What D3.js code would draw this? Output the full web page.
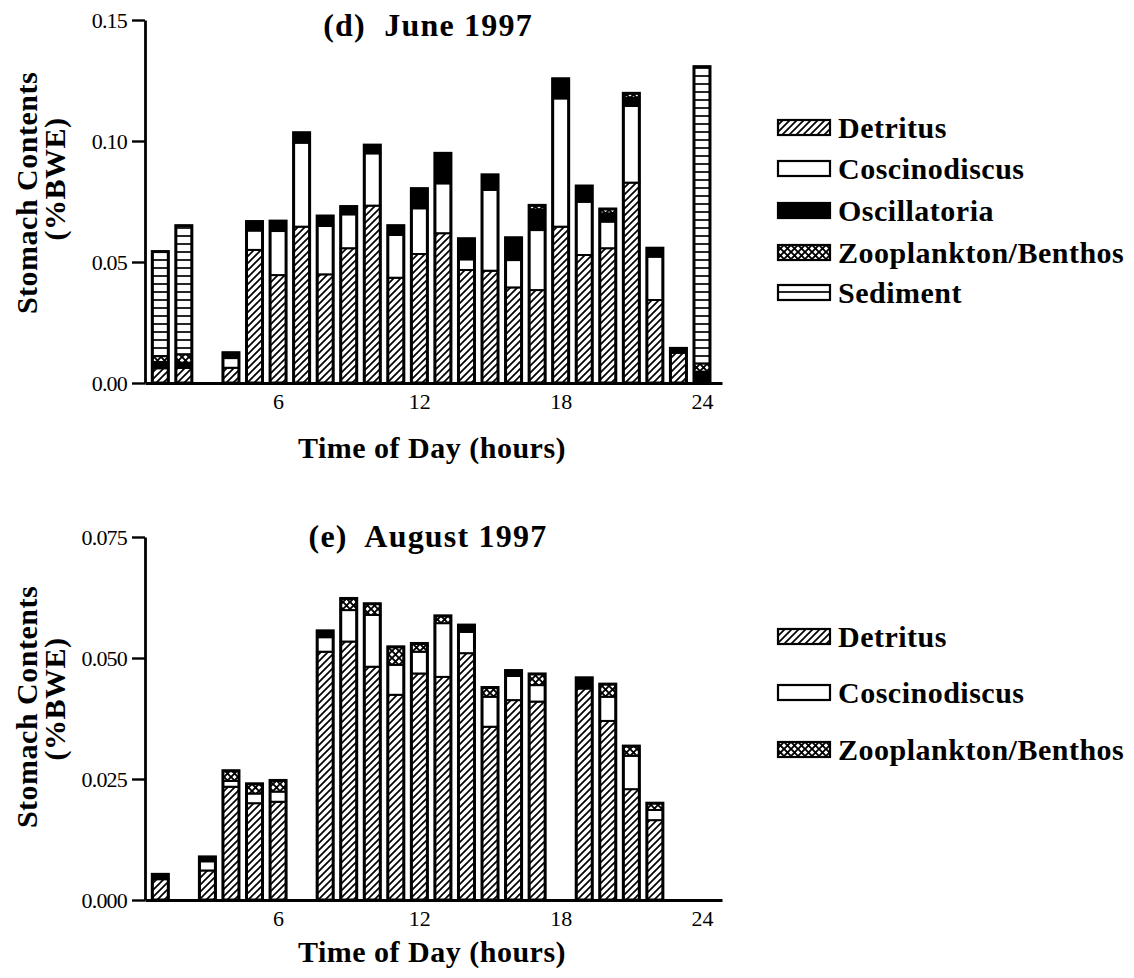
<!DOCTYPE html>
<html>
<head>
<meta charset="utf-8">
<script src="https://cdn.jsdelivr.net/npm/d3@7"></script>
<style>
  body { margin: 0; background: #fff; }
  svg { display: block; font-family: "Liberation Serif", "Times New Roman", serif; }
</style>
</head>
<body>
<div id="chart"></div>
<script>
// June 1997 (panel d)
const juneHours = [1, 2, 4, 5, 6, 7, 8, 9, 10, 11, 12, 13, 14, 15, 16, 17, 18, 19, 20, 21, 22, 23, 24];
const juneDetritus = [0.0061, 0.0062, 0.0063, 0.0550, 0.0446, 0.0646, 0.0449, 0.0557, 0.0733, 0.0435, 0.0533, 0.0619, 0.0467, 0.0464, 0.0395, 0.0384, 0.0646, 0.0529, 0.0557, 0.0828, 0.0343, 0.0125, 0];
const juneCosc     = [0, 0, 0.0040, 0.0080, 0.0182, 0.0347, 0.0200, 0.0140, 0.0216, 0.0177, 0.0189, 0.0206, 0.0044, 0.0334, 0.0113, 0.0248, 0.0530, 0.0220, 0.0110, 0.0317, 0.0179, 0, 0];
const juneOsc      = [0.0026, 0.0022, 0.0022, 0.0037, 0.0041, 0.0041, 0.0041, 0.0032, 0.0034, 0.0038, 0.0081, 0.0124, 0.0085, 0.0062, 0.0092, 0.0085, 0.0081, 0.0065, 0.0034, 0.0034, 0.0035, 0.0018, 0.0047];
const juneZoo      = [0.0024, 0.0035, 0, 0, 0, 0, 0, 0, 0, 0, 0, 0, 0, 0, 0, 0.0017, 0, 0, 0.0018, 0.0018, 0, 0, 0.0034];
const juneSediment = [0.0432, 0.0531, 0, 0, 0, 0, 0, 0, 0, 0, 0, 0, 0, 0, 0, 0, 0, 0, 0, 0, 0, 0, 0.1226];

// August 1997 (panel e)
const augHours = [1, 3, 4, 5, 6, 8, 9, 10, 11, 12, 13, 14, 15, 16, 17, 19, 20, 21, 22];
const augDetritus = [0.0043, 0.0061, 0.0234, 0.0200, 0.0203, 0.0513, 0.0534, 0.0482, 0.0424, 0.0468, 0.0461, 0.0510, 0.0358, 0.0413, 0.0410, 0.0437, 0.0370, 0.0229, 0.0165];
const augCosc     = [0, 0.0019, 0.0012, 0.0020, 0.0021, 0.0030, 0.0065, 0.0107, 0.0062, 0.0045, 0.0111, 0.0044, 0.0062, 0.0050, 0.0034, 0, 0.0050, 0.0069, 0.0021];
const augOsc      = [0.0010, 0.0009, 0, 0, 0, 0.0013, 0, 0, 0, 0, 0, 0.0014, 0, 0.0011, 0, 0.0022, 0, 0, 0];
const augZoo      = [0, 0, 0.0021, 0.0020, 0.0023, 0, 0.0024, 0.0023, 0.0037, 0.0017, 0.0015, 0, 0.0019, 0, 0.0023, 0, 0.0026, 0.0020, 0.0014];

const xTicks = [6, 12, 18, 24];
const juneYTicks = [0, 0.05, 0.10, 0.15];
const augYTicks = [0, 0.025, 0.050, 0.075];

const seriesKeys = ["Detritus", "Coscinodiscus", "Oscillatoria", "Zooplankton/Benthos", "Sediment"];
const fills = {
  "Detritus": "url(#hatch)",
  "Coscinodiscus": "#fff",
  "Oscillatoria": "#000",
  "Zooplankton/Benthos": "url(#cross)",
  "Sediment": "url(#sed)"
};

const svg = d3.select("#chart").append("svg")
  .attr("width", 1134).attr("height", 978);
svg.append("rect").attr("width", 1134).attr("height", 978).attr("fill", "#fff");

// patterns
const defs = svg.append("defs");
const hatch = defs.append("pattern").attr("id", "hatch").attr("patternUnits", "userSpaceOnUse")
  .attr("width", 7).attr("height", 7);
hatch.append("rect").attr("width", 7).attr("height", 7).attr("fill", "#fff");
hatch.append("path").attr("d", "M-1,1 l2,-2 M0,7 l7,-7 M6,8 l2,-2").attr("stroke", "#000").attr("stroke-width", 1.7);

const cross = defs.append("pattern").attr("id", "cross").attr("patternUnits", "userSpaceOnUse")
  .attr("width", 7).attr("height", 7);
cross.append("rect").attr("width", 7).attr("height", 7).attr("fill", "#fff");
cross.append("path").attr("d", "M0,0 L7,7 M7,0 L0,7").attr("stroke", "#000").attr("stroke-width", 1.9);

const sed = defs.append("pattern").attr("id", "sed").attr("patternUnits", "userSpaceOnUse")
  .attr("width", 8).attr("height", 8);
sed.append("rect").attr("width", 8).attr("height", 8).attr("fill", "#fff");
sed.append("path").attr("d", "M0,4 H8").attr("stroke", "#000").attr("stroke-width", 1.7);

const x = d3.scaleLinear().domain([0.35, 24.85]).range([145, 722]);
const barW = 16;

function panel(p) {
  const y = d3.scaleLinear().domain([0, p.yMax]).range([p.y0, p.y1]);
  const g = svg.append("g");

  const rows = p.hours.map((h, i) => {
    const r = { hour: h };
    seriesKeys.forEach(k => r[k] = p.values[k] ? p.values[k][i] : 0);
    return r;
  });
  const stacked = d3.stack().keys(seriesKeys)(rows);

  stacked.forEach(layer => {
    g.append("g").selectAll("rect")
      .data(layer.filter(d => d[1] - d[0] > 0))
      .join("rect")
      .attr("x", d => x(d.data.hour) - barW / 2)
      .attr("width", barW)
      .attr("y", d => y(d[1]))
      .attr("height", d => y(d[0]) - y(d[1]))
      .attr("fill", fills[layer.key])
      .attr("stroke", "#000")
      .attr("stroke-width", 2);
  });
  // outer outline of each bar
  g.append("g").selectAll("rect")
    .data(rows)
    .join("rect")
    .attr("x", d => x(d.hour) - barW / 2)
    .attr("width", barW)
    .attr("y", d => y(d3.sum(seriesKeys, k => d[k])))
    .attr("height", d => y(0) - y(d3.sum(seriesKeys, k => d[k])))
    .attr("fill", "none")
    .attr("stroke", "#000")
    .attr("stroke-width", 3);

  // axes
  const ya = g.append("g").attr("transform", "translate(145,0)")
    .call(d3.axisLeft(y).tickValues(p.yTicks).tickFormat(d3.format(p.fmt)).tickSize(13).tickPadding(5).tickSizeOuter(0));
  ya.select(".domain").attr("stroke-width", 2.8);
  ya.selectAll(".tick line").attr("stroke-width", 2.4);
  ya.selectAll("text").attr("font-size", 22).attr("letter-spacing", "-0.8px")
    .attr("font-family", "Liberation Serif").attr("fill", "#000");

  const xa = g.append("g").attr("transform", `translate(0,${p.y0})`)
    .call(d3.axisBottom(x).tickValues(xTicks).tickSize(0).tickPadding(10).tickSizeOuter(0));
  xa.select(".domain").attr("stroke-width", 2.8);
  xa.selectAll("text").attr("font-size", 22).attr("font-family", "Liberation Serif").attr("fill", "#000");

  const bold = sel => sel.attr("font-weight", "bold").attr("fill", "#000")
    .attr("text-anchor", "middle").attr("letter-spacing", "0.5px").attr("font-size", 30);

  g.append("text").attr("x", 428).attr("y", p.titleY).call(bold)
    .attr("font-size", 32).attr("letter-spacing", "1.2px").attr("xml:space", "preserve").text(p.title);
  g.append("text").attr("x", 432).attr("y", p.xLabelY).call(bold).text("Time of Day (hours)");
  g.append("text").attr("transform", `translate(37,${p.yLabelC1}) rotate(-90)`).call(bold).text("Stomach Contents");
  g.append("text").attr("transform", `translate(65,${p.yLabelC2}) rotate(-90)`).call(bold).text("(%BWE)");

  // legend
  const lg = svg.append("g");
  p.legend.forEach((k, i) => {
    const cy = p.legendY[i];
    lg.append("rect").attr("x", 778).attr("y", cy - 7).attr("width", 52).attr("height", 15)
      .attr("fill", fills[k]).attr("stroke", "#000").attr("stroke-width", 2.2);
    lg.append("text").attr("x", 838).attr("y", cy).attr("dy", "0.36em")
      .attr("font-weight", "bold").attr("font-size", 30).attr("letter-spacing", "0.5px").text(k);
  });
}

panel({
  hours: juneHours,
  values: { "Detritus": juneDetritus, "Coscinodiscus": juneCosc, "Oscillatoria": juneOsc, "Zooplankton/Benthos": juneZoo, "Sediment": juneSediment },
  yMax: 0.15, yTicks: juneYTicks, fmt: ".2f",
  y0: 383, y1: 20,
  title: "(d)  June 1997", titleY: 36, xLabelY: 458, yLabelC1: 193, yLabelC2: 179,
  legend: seriesKeys, legendY: [127, 168, 210, 252, 292]
});

panel({
  hours: augHours,
  values: { "Detritus": augDetritus, "Coscinodiscus": augCosc, "Oscillatoria": augOsc, "Zooplankton/Benthos": augZoo },
  yMax: 0.075, yTicks: augYTicks, fmt: ".3f",
  y0: 900, y1: 537,
  title: "(e)  August 1997", titleY: 547, xLabelY: 962, yLabelC1: 707, yLabelC2: 699,
  legend: ["Detritus", "Coscinodiscus", "Zooplankton/Benthos"], legendY: [636, 692, 749]
});
</script>
</body>
</html>
